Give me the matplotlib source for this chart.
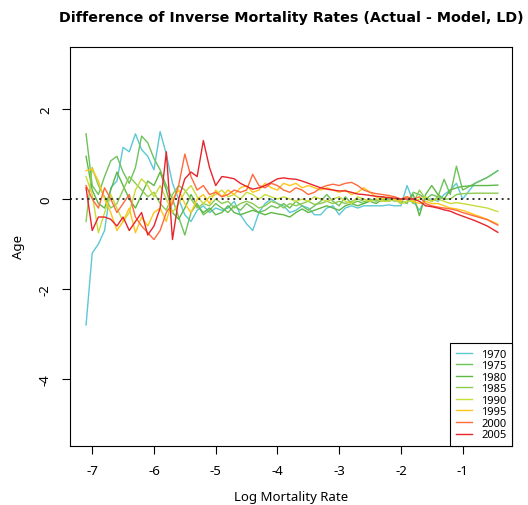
import numpy as np
import matplotlib
matplotlib.use("Agg")
import matplotlib.pyplot as plt

plt.rcParams['font.family'] = ['Noto Sans', 'DejaVu Sans']

# log mortality rate (x) shared by all years
x = [-7.1, -7.0, -6.9, -6.8, -6.7, -6.6, -6.5, -6.4, -6.3, -6.2,
     -6.1, -6.0, -5.9, -5.8, -5.7, -5.6, -5.5, -5.4, -5.3, -5.2,
     -5.1, -5.0, -4.9, -4.8, -4.7, -4.6, -4.5, -4.4, -4.3, -4.2,
     -4.1, -4.0, -3.9, -3.8, -3.7, -3.6, -3.5, -3.4, -3.3, -3.2,
     -3.1, -3.0, -2.9, -2.8, -2.7, -2.6, -2.5, -2.4, -2.3, -2.2,
     -2.1, -2.0, -1.9, -1.8, -1.7, -1.6, -1.5, -1.4, -1.3, -1.2,
     -1.1, -1.0, -0.8, -0.6, -0.43]

years = ['1970', '1975', '1980', '1985', '1990', '1995', '2000', '2005']
colores = ['#5CC8D7', '#6DC25A', '#5DB845', '#8CCB52',
           '#C8DC3A', '#FFC61A', '#FF6A3D', '#E8242C']

d1970 = [-2.8, -1.2, -1.0, -0.7, 0.25, 0.4, 1.15, 1.05, 1.45, 1.1,
         0.95, 0.65, 1.5, 1.0, 0.35, 0.0, -0.35, -0.5, -0.25, -0.15,
         -0.3, -0.2, -0.25, -0.2, -0.05, -0.35, -0.55, -0.7, -0.3, -0.1,
         0.0, -0.1, -0.15, -0.3, -0.25, -0.15, -0.2, -0.35, -0.35, -0.2,
         -0.15, -0.35, -0.2, -0.15, -0.2, -0.15, -0.15, -0.15, -0.15, -0.13,
         -0.15, -0.15, 0.3, -0.05, -0.25, 0.0, 0.0, -0.05, 0.1, 0.2,
         0.35, 0.0, 0.35, 0.48, 0.63]
d1975 = [1.45, 0.3, 0.1, 0.5, 0.85, 0.95, 0.6, 0.35, 0.7, 1.4,
         1.25, 0.9, 0.65, 0.3, 0.0, -0.4, -0.8, -0.3, -0.1, -0.35,
         -0.25, -0.1, -0.2, -0.3, -0.15, -0.25, -0.1, -0.2, -0.3, -0.25,
         -0.15, -0.2, -0.1, -0.2, -0.05, -0.15, -0.25, -0.15, -0.05, 0.1,
         -0.05, -0.15, 0.05, -0.1, -0.05, -0.1, 0.0, -0.05, 0.05, 0.0,
         0.0, -0.05, -0.1, 0.15, 0.1, 0.0, 0.1, 0.05, 0.44, 0.1,
         0.73, 0.2, 0.35, 0.48, 0.63]
d1980 = [0.95, 0.2, -0.1, -0.2, 0.2, 0.6, 0.3, 0.0, -0.2, 0.1,
         0.4, 0.3, 0.6, 0.2, -0.3, -0.45, -0.2, 0.1, -0.15, -0.3,
         -0.2, -0.35, -0.3, -0.15, -0.3, -0.35, -0.3, -0.25, -0.3, -0.35,
         -0.3, -0.33, -0.35, -0.4, -0.3, -0.22, -0.3, -0.25, -0.2, -0.15,
         -0.2, -0.25, -0.15, -0.1, -0.15, -0.1, -0.05, -0.1, 0.0, -0.05,
         0.0, -0.1, -0.05, 0.1, -0.37, 0.1, 0.3, 0.1, 0.0, 0.2,
         0.25, 0.28, 0.3, 0.3, 0.31]
d1985 = [-0.5, 0.7, 0.3, 0.05, -0.2, -0.1, 0.2, 0.5, 0.35, 0.2,
         0.05, 0.15, -0.1, -0.25, 0.1, 0.3, 0.2, 0.0, -0.2, -0.1,
         -0.15, 0.0, -0.1, -0.05, -0.2, -0.1, -0.05, -0.1, -0.2, -0.15,
         -0.05, -0.1, -0.2, -0.1, -0.15, -0.1, -0.05, -0.12, -0.1, -0.05,
         -0.1, -0.05, -0.1, -0.05, 0.0, -0.05, -0.05, 0.0, -0.05, 0.0,
         -0.05, 0.0, 0.05, -0.1, 0.2, 0.0, -0.05, 0.05, 0.0, 0.0,
         0.1, 0.12, 0.13, 0.13, 0.13]
d1990 = [0.5, 0.1, -0.75, -0.3, 0.1, -0.2, -0.5, -0.3, 0.2, 0.45,
         0.3, 0.05, 0.3, 0.0, -0.3, -0.1, 0.15, 0.3, 0.05, -0.1,
         0.05, 0.1, 0.2, 0.05, 0.1, 0.0, 0.15, 0.1, 0.0, 0.1,
         0.05, 0.0, 0.05, 0.0, -0.05, 0.0, -0.05, 0.05, 0.0, -0.05,
         0.0, 0.05, -0.05, -0.1, 0.05, 0.0, -0.05, 0.0, -0.05, -0.05,
         0.0, -0.1, -0.05, -0.05, 0.0, 0.05, -0.05, 0.0, -0.05, -0.1,
         -0.08, -0.1, -0.15, -0.2, -0.28]
d1995 = [0.63, 0.67, 0.4, 0.0, -0.3, -0.7, -0.5, -0.2, -0.75, -0.4,
         -0.6, -0.3, -0.2, -0.5, 0.0, 0.2, -0.1, -0.3, 0.0, 0.1,
         -0.1, 0.2, 0.05, 0.2, 0.1, 0.25, 0.3, 0.15, 0.2, 0.35,
         0.25, 0.2, 0.35, 0.3, 0.35, 0.25, 0.3, 0.25, 0.2, 0.25,
         0.2, 0.15, 0.2, 0.1, 0.15, 0.25, 0.15, 0.05, 0.0, 0.05,
         0.0, -0.05, 0.05, -0.05, -0.1, -0.05, -0.1, -0.1, -0.15, -0.2,
         -0.22, -0.25, -0.35, -0.45, -0.56]
d2000 = [0.3, 0.0, -0.2, 0.25, 0.0, -0.3, -0.1, 0.1, -0.4, -0.6,
         -0.75, -0.9, -0.7, -0.3, -0.1, 0.3, 1.0, 0.5, 0.2, 0.3,
         0.1, 0.15, 0.05, 0.1, 0.2, 0.15, 0.2, 0.55, 0.3, 0.25,
         0.35, 0.3, 0.2, 0.15, 0.25, 0.2, 0.1, 0.15, 0.25, 0.3,
         0.33, 0.3, 0.35, 0.37, 0.3, 0.2, 0.15, 0.12, 0.1, 0.08,
         0.05, 0.0, 0.05, 0.0, 0.05, -0.1, -0.15, -0.18, -0.2, -0.22,
         -0.25, -0.3, -0.38, -0.46, -0.58]
d2005 = [0.25, -0.7, -0.4, -0.4, -0.45, -0.6, -0.4, -0.7, -0.5, -0.3,
         -0.8, -0.6, -0.2, 1.05, -0.9, 0.0, 0.45, 0.6, 0.5, 1.3,
         0.7, 0.3, 0.5, 0.48, 0.45, 0.35, 0.28, 0.22, 0.25, 0.3,
         0.37, 0.45, 0.47, 0.45, 0.44, 0.4, 0.35, 0.3, 0.25, 0.22,
         0.2, 0.18, 0.18, 0.15, 0.11, 0.1, 0.08, 0.06, 0.05, 0.03,
         0.02, 0.0, 0.0, 0.0, -0.05, -0.15, -0.17, -0.2, -0.24, -0.27,
         -0.33, -0.38, -0.48, -0.6, -0.74]

series = [d1970, d1975, d1980, d1985, d1990, d1995, d2000, d2005]

fig = plt.figure(figsize=(5.28, 5.06), dpi=100)
ax = fig.add_axes([70/528, 59/506, 442/528, 399/506])

for yr, col, d in zip(years, colores, series):
    ax.plot(x, d, color=col, lw=1.0, label=yr)

ax.axhline(0, color='#333333', ls=(0, (1, 2)), lw=1.4)

ax.set_xlim(-7.36, -0.2)
ax.set_ylim(-5.49, 3.38)
ax.set_xticks([-7, -6, -5, -4, -3, -2, -1])
ax.set_yticks([-4, -2, 0, 2])
ax.set_xticklabels(['-7', '-6', '-5', '-4', '-3', '-2', '-1'])
ax.set_yticklabels(['-4', '-2', '0', '2'], rotation=90, va='center')
ax.tick_params(direction='out', length=6, width=0.8, labelsize=9.5, pad=7)
for s in ax.spines.values():
    s.set_linewidth(0.8)

ax.set_title('Difference of Inverse Mortality Rates (Actual - Model, LD)',
             fontsize=10.3, fontweight='bold', family='DejaVu Sans', pad=19)
ax.set_xlabel('Log Mortality Rate', fontsize=9.5, labelpad=9)
ax.set_ylabel('Age', fontsize=9.5, labelpad=10)

leg = ax.legend(loc='lower right', borderaxespad=0, fancybox=False,
                edgecolor='black', framealpha=1, fontsize=8,
                handlelength=1.5, handletextpad=0.8,
                labelspacing=0.05, borderpad=0.5)
leg.get_frame().set_linewidth(0.8)

plt.savefig('out.png', dpi=100)
